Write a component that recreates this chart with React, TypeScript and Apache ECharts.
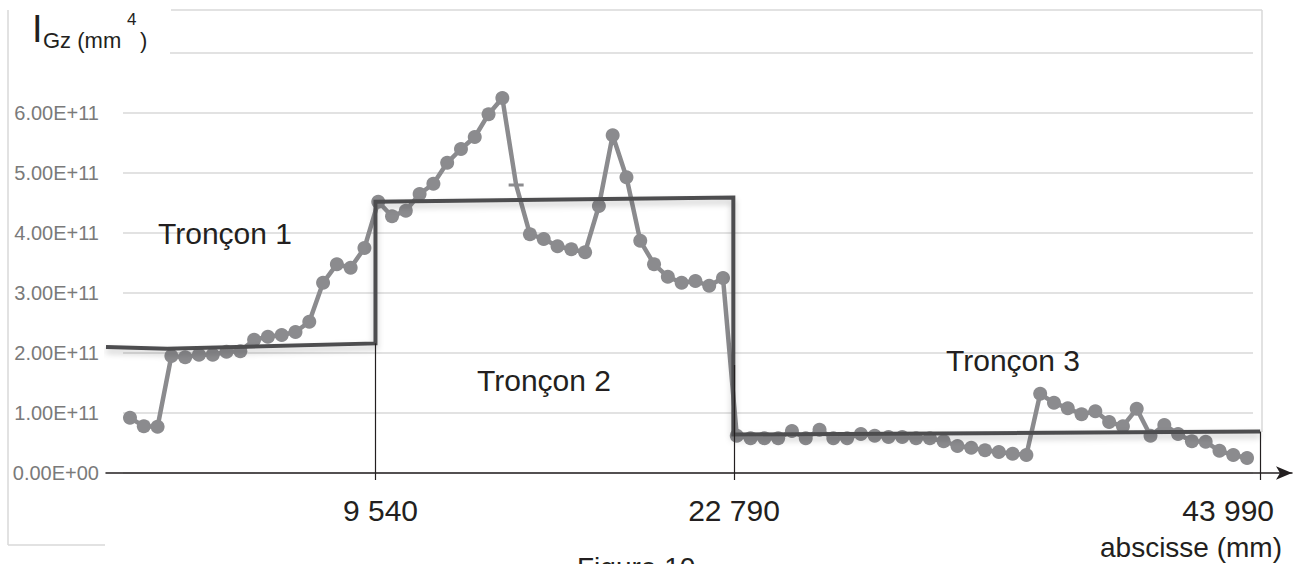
import React, { useEffect, useRef } from 'react';
import * as echarts from 'echarts';

const E11 = 1e11;

// I_Gz (in units of 1E11 mm^4), one value per measured section along the beam
const igzValues = [
  0.92, 0.78, 0.77, 1.95, 1.93, 1.97, 1.97, 2.02, 2.03, 2.22, 2.27, 2.3, 2.35, 2.52,
  3.17, 3.48, 3.42, 3.75, 4.52, 4.28, 4.37, 4.65, 4.82, 5.17, 5.4, 5.6, 5.98, 6.25,
  4.8, 3.98, 3.9, 3.78, 3.73, 3.68, 4.45, 5.63, 4.93, 3.87, 3.48, 3.27, 3.17, 3.2, 3.12, 3.25,
  0.62, 0.58, 0.58, 0.58, 0.7, 0.58, 0.72, 0.58, 0.58, 0.65, 0.62, 0.6, 0.6, 0.58, 0.58,
  0.53, 0.45, 0.42, 0.38, 0.35, 0.32, 0.3,
  1.32, 1.17, 1.08, 0.98, 1.03, 0.85, 0.78, 1.07, 0.62, 0.8, 0.65, 0.53, 0.52, 0.37, 0.3, 0.25,
];
const dashPointIndex = 28;

// Stepped model (tronçons), x in section-index units, y in 1E11 mm^4
const stepX = [-1.74, 2.7, 17.8, 17.8, 43.75, 43.75, 81.95];
const stepY = [2.1, 2.07, 2.16, 4.52, 4.59, 0.64, 0.69];

// Section boundaries on the abscissa
const boundaryX = [17.8, 43.8, 81.95];
const boundaryTop = [2.16, 1.8, 0.69];
const boundaryLabels = ['9 540', '22 790', '43 990'];

const yTickLabels = ['0.00E+00', '1.00E+11', '2.00E+11', '3.00E+11', '4.00E+11', '5.00E+11', '6.00E+11'];

const sectionNames = ['Tronçon 1', 'Tronçon 2', 'Tronçon 3'];

const FONT = '"Liberation Sans", Arial, Helvetica, sans-serif';
const INK = '#231f20';
const GRID = '#d9d9d9';

export default function App() {
  const ref = useRef<HTMLDivElement>(null);

  useEffect(() => {
    if (!ref.current) return;
    const chart = echarts.init(ref.current, undefined, { renderer: 'svg' });

    const pointData = igzValues.map((v, i) =>
      i === dashPointIndex
        ? { value: [i, v * E11], symbol: 'rect', symbolSize: [15, 3] }
        : { value: [i, v * E11] }
    );

    const labelPad = [
      { padding: [0, 0, 0, 10] },
      { padding: [0, 0, 0, 0] },
      { padding: [0, 64, 0, 0] },
    ];
    const rich: Record<string, any> = {};
    boundaryLabels.forEach((_, i) => {
      rich['l' + i] = { fontSize: 30, fontFamily: FONT, color: INK, ...labelPad[i] };
    });

    const option: any = {
      animation: false,
      grid: [
        { left: 123, top: 53, width: 1130, height: 420 },
        { left: 106, top: 53, width: 1186, height: 420 },
      ],
      xAxis: [
        { gridIndex: 0, type: 'value', min: 0, max: 1, show: false },
        {
          gridIndex: 1,
          type: 'value',
          min: -1.74,
          max: 84.26,
          axisLine: {
            show: true,
            onZero: false,
            symbol: ['none', 'arrow'],
            symbolSize: [10, 16],
            lineStyle: { color: INK, width: 1.5 },
          },
          axisTick: {
            show: true,
            customValues: boundaryX,
            length: 7,
            lineStyle: { color: INK, width: 1.2 },
          },
          axisLabel: {
            show: true,
            customValues: boundaryX,
            margin: 22,
            formatter: (val: number) => {
              const idx = boundaryX.findIndex((b) => Math.abs(b - val) < 1e-6);
              return idx >= 0 ? `{l${idx}|${boundaryLabels[idx]}}` : '';
            },
            rich,
          },
          splitLine: { show: false },
        },
      ],
      yAxis: [
        {
          gridIndex: 0,
          type: 'value',
          min: 0,
          max: 7 * E11,
          interval: E11,
          axisLine: { show: false },
          axisTick: { show: false },
          axisLabel: {
            margin: 24,
            fontSize: 20,
            fontFamily: FONT,
            color: '#7a7a7a',
            formatter: (v: number) => {
              const k = Math.round(v / E11);
              return yTickLabels[k] ?? '';
            },
          },
          splitLine: { show: true, lineStyle: { color: GRID, width: 1.5 } },
        },
        { gridIndex: 1, type: 'value', min: 0, max: 7 * E11, interval: E11, show: false },
      ],
      series: [
        {
          type: 'line',
          xAxisIndex: 1,
          yAxisIndex: 1,
          data: pointData,
          symbol: 'circle',
          symbolSize: 14,
          lineStyle: { color: '#8b8b8e', width: 4.5 },
          itemStyle: { color: '#8b8b8e' },
          z: 2,
          silent: true,
        },
        {
          type: 'line',
          xAxisIndex: 1,
          yAxisIndex: 1,
          data: stepX.map((x, i) => [x, stepY[i] * E11]),
          symbol: 'none',
          clip: false,
          lineStyle: {
            color: '#4d4d4f',
            width: 4,
            join: 'miter',
            shadowColor: 'rgba(0,0,0,0.22)',
            shadowBlur: 6,
            shadowOffsetY: 4,
          },
          z: 3,
          silent: true,
          markLine: {
            silent: true,
            symbol: ['none', 'none'],
            label: { show: false },
            lineStyle: { color: INK, width: 1.2, type: 'solid' },
            data: boundaryX.map((b, i) => [
              { coord: [b, boundaryTop[i] * E11] },
              { coord: [b, 0] },
            ]),
          },
        },
      ],
      graphic: [
        // chart frame pieces
        { type: 'line', z: 1, shape: { x1: 8, y1: 10, x2: 8, y2: 545 }, style: { stroke: GRID, lineWidth: 1.5 } },
        { type: 'line', z: 1, shape: { x1: 8, y1: 545, x2: 105, y2: 545 }, style: { stroke: GRID, lineWidth: 1.5 } },
        { type: 'line', z: 1, shape: { x1: 171, y1: 10, x2: 1262, y2: 10 }, style: { stroke: GRID, lineWidth: 1.5 } },
        { type: 'line', z: 1, shape: { x1: 1262, y1: 10, x2: 1262, y2: 432 }, style: { stroke: GRID, lineWidth: 1.5 } },
        // title background
        { type: 'rect', z: 50, shape: { x: 10, y: 2, width: 160, height: 62 }, style: { fill: '#ffffff' } },
        // title I_Gz (mm^4)
        { type: 'text', z: 60, x: 32, y: 28.5, style: { text: 'I', font: `38px ${FONT}`, fill: INK, verticalAlign: 'middle' } },
        { type: 'text', z: 60, x: 43, y: 40.5, style: { text: 'Gz (mm', font: `22px ${FONT}`, fill: INK, verticalAlign: 'middle' } },
        { type: 'text', z: 60, x: 127, y: 19, style: { text: '4', font: `17px ${FONT}`, fill: INK, verticalAlign: 'middle' } },
        { type: 'text', z: 60, x: 140, y: 40, style: { text: ')', font: `22px ${FONT}`, fill: INK, verticalAlign: 'middle' } },
        // section names
        { type: 'text', z: 60, x: 158, y: 233, style: { text: sectionNames[0], font: `30px ${FONT}`, fill: INK, verticalAlign: 'middle' } },
        { type: 'text', z: 60, x: 477, y: 380, style: { text: sectionNames[1], font: `30px ${FONT}`, fill: INK, verticalAlign: 'middle' } },
        { type: 'text', z: 60, x: 946, y: 360, style: { text: sectionNames[2], font: `30px ${FONT}`, fill: INK, verticalAlign: 'middle' } },
        // axis title
        { type: 'text', z: 60, x: 1282, y: 547, style: { text: 'abscisse (mm)', font: `28px ${FONT}`, fill: INK, align: 'right', verticalAlign: 'middle' } },
        // caption (partly below the bottom edge, as in the reference)
        { type: 'text', z: 60, x: 577, y: 567, style: { text: 'Figure 10', font: `28px ${FONT}`, fill: INK, verticalAlign: 'middle' } },
      ],
    };

    chart.setOption(option);
    return () => chart.dispose();
  }, []);

  return (
    <div
      ref={ref}
      style={{ position: 'fixed', left: 0, top: 0, width: 1313, height: 564, background: '#ffffff' }}
    />
  );
}
